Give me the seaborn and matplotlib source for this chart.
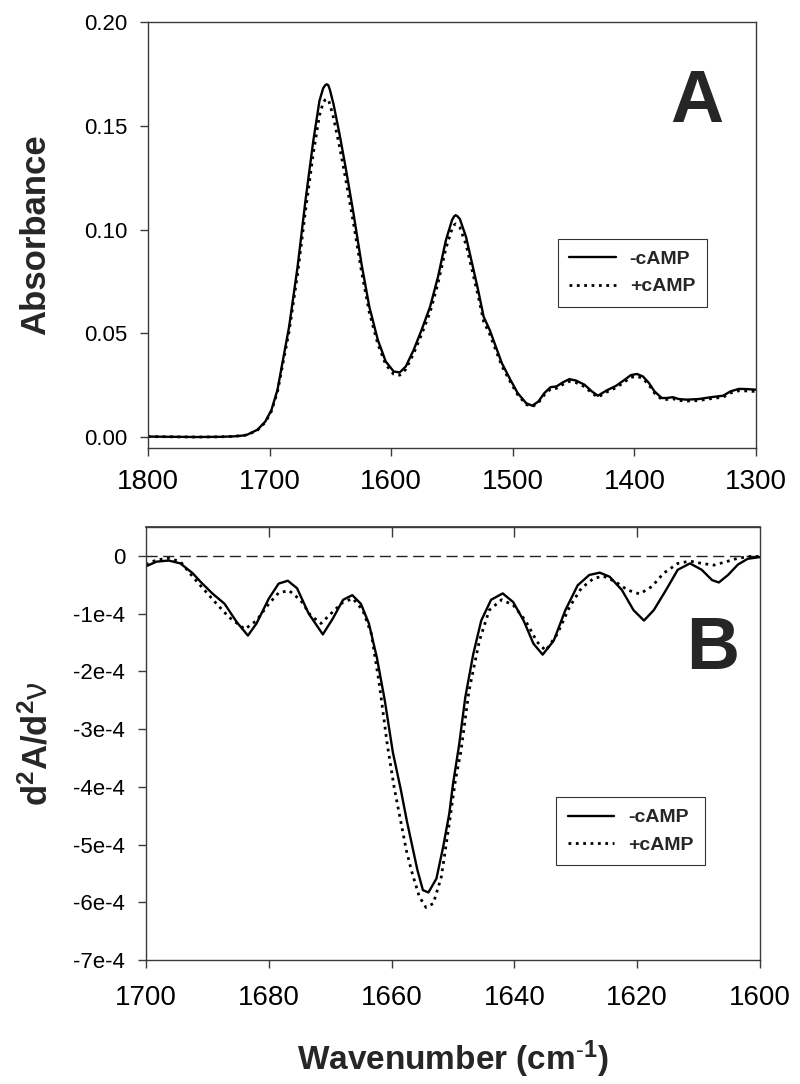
import numpy as np
import pandas as pd
import matplotlib
matplotlib.use("Agg")
import matplotlib.pyplot as plt
import seaborn as sns

sns.set_theme(style="ticks")
plt.rcParams["font.family"] = ["Liberation Sans", "DejaVu Sans"]
plt.rcParams["axes.unicode_minus"] = False
plt.rcParams["mathtext.fontset"] = "custom"
plt.rcParams["mathtext.rm"] = "Liberation Sans"
plt.rcParams["mathtext.bf"] = "Liberation Sans:bold"
plt.rcParams["mathtext.it"] = "Liberation Sans:italic"

# ── Panel A: absorbance spectra ──────────────────────────────────────────────
wn_a = [1800, 1780, 1760, 1740, 1730, 1722, 1718.5, 1710, 1703.5, 1698.5,
        1693.5, 1689, 1684, 1677, 1670.5, 1664, 1659, 1656, 1654.3, 1653,
        1651.7, 1650.5, 1647.5, 1642.5, 1637.5, 1631, 1624.5, 1618, 1611, 1604.5,
        1598, 1593, 1588, 1581.5, 1575, 1568, 1561.5, 1555, 1550, 1548.3,
        1547, 1545.5, 1543.5, 1538.5, 1533.5, 1528.5, 1524, 1519, 1514, 1509,
        1502, 1496, 1489, 1484, 1479, 1474, 1469, 1464, 1459, 1453.5,
        1448, 1441, 1435, 1430, 1423, 1415, 1408, 1403, 1398, 1393,
        1388, 1383.5, 1377.5, 1373.5, 1368.5, 1363.5, 1357, 1347, 1337, 1327,
        1321, 1314, 1307.5, 1300]
abs_minus = [0.0002, 0.0001, 0.0000, 0.0001, 0.0003, 0.0007, 0.0011, 0.0035, 0.0075, 0.013,
             0.0228, 0.0372, 0.053, 0.082, 0.114, 0.143, 0.162, 0.1680, 0.1695, 0.1700,
             0.1695, 0.1675, 0.1606, 0.146, 0.130, 0.1077, 0.0837, 0.0628, 0.0468, 0.0364,
             0.0316, 0.0311, 0.034, 0.042, 0.0516, 0.0628, 0.0772, 0.0949, 0.1045, 0.1063,
             0.1069, 0.1064, 0.1050, 0.0965, 0.0837, 0.0708, 0.058, 0.0516, 0.0436, 0.0356,
             0.0276, 0.0212, 0.0163, 0.0151, 0.0171, 0.0212, 0.024, 0.0244, 0.0263, 0.0279,
             0.0272, 0.0252, 0.022, 0.0199, 0.0224, 0.0247, 0.0276, 0.0298, 0.0304, 0.0292,
             0.026, 0.022, 0.0188, 0.0188, 0.0192, 0.0183, 0.018, 0.0183, 0.0192, 0.0199,
             0.022, 0.0232, 0.0231, 0.0228]
abs_plus = [0.0002, 0.0001, 0.0000, 0.0001, 0.0003, 0.0007, 0.0010, 0.0033, 0.0071, 0.0124,
            0.0218, 0.0356, 0.0507, 0.0785, 0.109, 0.137, 0.155, 0.1610, 0.1625, 0.1630,
            0.1625, 0.1605, 0.154, 0.140, 0.1245, 0.103, 0.080, 0.060, 0.0448, 0.0349,
            0.0303, 0.0298, 0.0326, 0.0403, 0.0495, 0.0602, 0.0741, 0.091, 0.1003, 0.1021,
            0.1027, 0.1022, 0.1009, 0.0928, 0.0805, 0.068, 0.0557, 0.0496, 0.0419, 0.0342,
            0.0265, 0.0204, 0.0157, 0.0146, 0.0165, 0.0204, 0.0231, 0.0235, 0.0253, 0.0268,
            0.0262, 0.0243, 0.0212, 0.0192, 0.0216, 0.0238, 0.0266, 0.0287, 0.0293, 0.0282,
            0.0251, 0.0212, 0.0181, 0.0181, 0.0185, 0.0176, 0.0173, 0.0176, 0.0185, 0.0192,
            0.0212, 0.0223, 0.0222, 0.0219]

# ── Panel B: second derivative (units of 1e-4) ──────────────────────────────
wn_b_minus = [1700, 1698.3, 1696.3, 1694.4, 1692.4, 1691.1, 1689.2, 1687.2, 1685.2, 1683.4,
              1682.0, 1680.0, 1678.4, 1676.9, 1675.4, 1673.5, 1671.2, 1669.6, 1667.9, 1666.4,
              1665.0, 1663.7, 1662.4, 1661.1, 1659.8, 1658.5, 1657.5, 1655.8, 1654.9, 1654.0,
              1652.7, 1651.6, 1650.6, 1650.0, 1649.0, 1648.0, 1646.7, 1645.4, 1643.8, 1641.9,
              1640.2, 1638.5, 1636.9, 1635.4, 1633.6, 1631.7, 1629.7, 1627.8, 1626.1, 1624.5,
              1622.5, 1620.6, 1618.9, 1617.3, 1615.3, 1613.4, 1611.4, 1609.5, 1607.8, 1606.7,
              1605.2, 1603.6, 1602.0, 1600.0]
d2_minus = [-0.18, -0.10, -0.08, -0.13, -0.30, -0.45, -0.65, -0.83, -1.15, -1.38,
            -1.17, -0.74, -0.48, -0.43, -0.56, -1.00, -1.36, -1.09, -0.76, -0.68,
            -0.83, -1.17, -1.76, -2.51, -3.40, -4.05, -4.60, -5.44, -5.79, -5.83,
            -5.59, -5.04, -4.46, -3.95, -3.27, -2.45, -1.70, -1.12, -0.76, -0.65,
            -0.80, -1.12, -1.52, -1.71, -1.47, -0.94, -0.51, -0.33, -0.29, -0.36,
            -0.59, -0.94, -1.12, -0.94, -0.59, -0.24, -0.13, -0.24, -0.42, -0.46,
            -0.33, -0.15, -0.05, -0.02]
wn_b_plus = [1700, 1698.3, 1696.3, 1694.4, 1692.4, 1690.5, 1688.5, 1686.5, 1683.9, 1682.0,
             1680.0, 1678.4, 1676.7, 1674.8, 1673.2, 1671.5, 1669.6, 1667.9, 1666.3, 1664.7,
             1663.3, 1662.0, 1660.7, 1659.6, 1658.6, 1657.6, 1656.8, 1655.5, 1654.4, 1653.2,
             1651.9, 1650.6, 1649.6, 1648.7, 1647.4, 1645.7, 1644.1, 1642.1, 1640.2, 1638.2,
             1636.3, 1634.9, 1633.0, 1631.0, 1629.1, 1627.1, 1625.5, 1623.5, 1621.6, 1619.6,
             1617.6, 1615.7, 1613.4, 1611.4, 1609.5, 1607.5, 1605.5, 1603.6, 1601.6, 1600.0]
d2_plus = [-0.15, -0.07, -0.04, -0.10, -0.36, -0.59, -0.83, -1.06, -1.27, -1.12,
           -0.83, -0.64, -0.60, -0.77, -1.03, -1.17, -0.97, -0.80, -0.74, -0.94,
           -1.35, -2.22, -3.27, -4.00, -4.55, -5.10, -5.44, -5.90, -6.09, -6.02,
           -5.56, -4.63, -3.88, -3.38, -2.34, -1.47, -0.94, -0.76, -0.85, -1.12,
           -1.49, -1.64, -1.35, -0.88, -0.56, -0.39, -0.35, -0.45, -0.59, -0.66,
           -0.53, -0.30, -0.13, -0.09, -0.13, -0.16, -0.10, -0.04, -0.01, -0.01]

a_ticks = [0.00, 0.05, 0.10, 0.15, 0.20]
b_ticks = [0, -1, -2, -3, -4, -5, -6, -7]
b_tick_labels = ["0", "-1e-4", "-2e-4", "-3e-4", "-4e-4", "-5e-4", "-6e-4", "-7e-4"]

SPINE = "#3a3a3a"
LW = 1.7


def style_axes(ax, xsize, ysize, xpad):
    for s in ax.spines.values():
        s.set_color(SPINE)
        s.set_linewidth(1.0)
    ax.tick_params(axis="both", direction="out", length=6, width=1.0, color=SPINE,
                   labelcolor="black")
    ax.tick_params(axis="x", labelsize=xsize, pad=xpad)
    ax.tick_params(axis="y", labelsize=ysize, pad=9)


def add_legend(ax, anchor):
    leg = ax.legend(loc="upper left", bbox_to_anchor=anchor, borderaxespad=0,
                    frameon=True, fancybox=False, edgecolor="black",
                    prop={"weight": "bold", "size": 14},
                    handlelength=2.4, handletextpad=0.7, labelspacing=0.5,
                    borderpad=0.6)
    leg.get_frame().set_linewidth(0.8)
    return leg


fig = plt.figure(figsize=(8.0, 10.84), dpi=100)
ax1 = fig.add_axes([0.185, 0.5867, 0.76, 0.3930])
ax2 = fig.add_axes([0.1825, 0.1144, 0.7675, 0.3994])

# Panel A
sns.lineplot(x=wn_a, y=abs_minus, ax=ax1, color="black", lw=LW, label="-cAMP", sort=False)
sns.lineplot(x=wn_a, y=abs_plus, ax=ax1, color="black", lw=LW + 0.3, linestyle=":",
             label="+cAMP", sort=False)
ax1.set_xlim(1800, 1300)
ax1.set_ylim(-0.0053, 0.20)
ax1.set_yticks(a_ticks)
ax1.set_yticklabels([f"{t:.2f}" for t in a_ticks])
ax1.set_xticks([1800, 1700, 1600, 1500, 1400, 1300])
ax1.set_ylabel("Absorbance", fontsize=25, fontweight="bold")
ax1.yaxis.set_label_coords(-0.158, 0.5)
ax1.set_xlabel("")
style_axes(ax1, 20, 16, 9)
ax1.text(0.903, 0.812, "A", transform=ax1.transAxes, fontsize=53, fontweight="bold",
         ha="center", va="center")
add_legend(ax1, (0.674, 0.491))

# Panel B
ax2.axhline(0, color="#222222", lw=1.0, linestyle=(0, (8, 4)))
sns.lineplot(x=wn_b_minus, y=np.array(d2_minus) * 1e-4, ax=ax2, color="black", lw=LW,
             label="-cAMP", sort=False)
sns.lineplot(x=wn_b_plus, y=np.array(d2_plus) * 1e-4, ax=ax2, color="black", lw=LW + 0.3,
             linestyle=":", label="+cAMP", sort=False)
ax2.set_xlim(1700, 1600)
ax2.set_ylim(-7e-4, 0.5e-4)
ax2.set_yticks([t * 1e-4 for t in b_ticks])
ax2.set_yticklabels(b_tick_labels)
ax2.set_xticks([1700, 1680, 1660, 1640, 1620, 1600])
ax2.set_ylabel(r"d$^\mathbf{2}$A/d$^\mathbf{2}$$\mathrm{\nu}$", fontsize=25, fontweight="bold")
ax2.yaxis.set_label_coords(-0.150, 0.5)
ax2.set_xlabel(r"Wavenumber (cm$^{\mathbf{\text{-}1}}$)", fontsize=24, fontweight="bold",
               labelpad=20)
style_axes(ax2, 20, 16, 12)
sec = ax2.secondary_xaxis("top")
sec.set_xticks([1680, 1660, 1640, 1620])
sec.tick_params(direction="in", length=7, width=1.0, color=SPINE, labeltop=False)
sec.spines["top"].set_color(SPINE)
ax2.text(0.923, 0.718, "B", transform=ax2.transAxes, fontsize=53, fontweight="bold",
         ha="center", va="center")
add_legend(ax2, (0.668, 0.376))

fig.savefig("out.png", dpi=100, facecolor="white")
